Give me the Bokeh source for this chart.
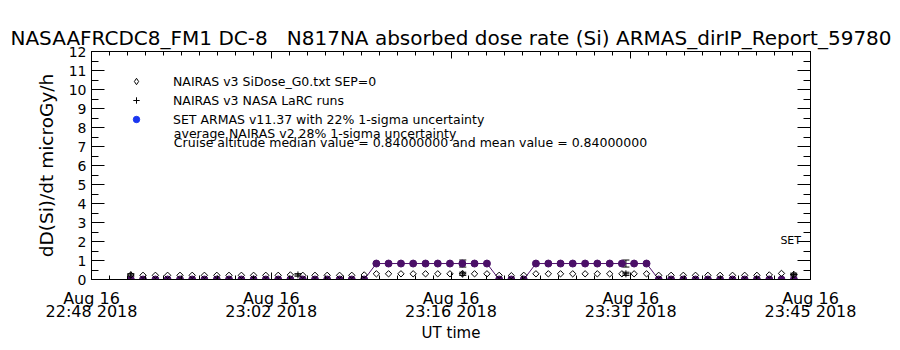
import math
from bokeh.plotting import figure
from bokeh.models import (Range1d, LinearAxis, FixedTicker, Legend, LegendItem, Label,
                          Whisker, TeeHead, ColumnDataSource)
from bokeh.embed import file_html
from bokeh.resources import INLINE

FONT = "DejaVu Sans"
INK = "black"
PURPLE = "#4b0f68"
BLUE = "#1a36f0"

NBSP = "\u00a0"
title_text = "NASAAFRCDC8_FM1 DC-8" + NBSP * 3 + "N817NA absorbed dose rate (Si) ARMAS_dirIP_Report_59780"
y_title = "dD(Si)/dt microGy/h"
x_title = "UT time"

# ---- data (UT times on Aug 16 2018) ----
nairas_times = [
    "22:51:07", "22:52:05", "22:53:04", "22:54:02", "22:55:01", "22:55:59", "22:56:57", "22:57:56", "22:58:54", "22:59:53",
    "23:00:51", "23:01:49", "23:02:48", "23:03:46", "23:04:45", "23:05:43", "23:06:41", "23:07:40", "23:08:38", "23:09:37",
    "23:10:35", "23:11:33", "23:12:32", "23:13:30", "23:14:29", "23:15:27", "23:16:25", "23:17:24", "23:18:22", "23:19:21",
    "23:20:19", "23:21:17", "23:22:16", "23:23:14", "23:24:13", "23:25:11", "23:26:09", "23:27:08", "23:28:06", "23:29:05",
    "23:30:03", "23:31:01", "23:32:00", "23:32:58", "23:33:57", "23:34:55", "23:35:53", "23:36:52", "23:37:50", "23:38:49",
    "23:39:47", "23:40:45", "23:41:44", "23:42:42", "23:43:41",
]
nairas_dose = [
    0.24, 0.22, 0.22, 0.22, 0.22, 0.22, 0.22, 0.22, 0.22, 0.22,
    0.22, 0.22, 0.22, 0.24, 0.22, 0.22, 0.22, 0.22, 0.22, 0.24,
    0.30, 0.30, 0.30, 0.30, 0.30, 0.30, 0.30, 0.30, 0.30, 0.30,
    0.22, 0.20, 0.22, 0.30, 0.30, 0.30, 0.30, 0.30, 0.30, 0.30,
    0.30, 0.30, 0.30, 0.22, 0.22, 0.22, 0.22, 0.22, 0.22, 0.22,
    0.22, 0.22, 0.24, 0.32, 0.26,
]
armas_dose = [
    0, 0, 0, 0, 0, 0, 0, 0, 0, 0,
    0, 0, 0, 0, 0, 0, 0, 0, 0, 0,
    0.84, 0.84, 0.84, 0.84, 0.84, 0.84, 0.84, 0.84, 0.84, 0.84,
    0, 0, 0, 0.84, 0.84, 0.84, 0.84, 0.84, 0.84, 0.84,
    0.84, 0.84, 0.84, 0, 0, 0, 0, 0, 0, 0,
    0, 0, 0, 0, 0,
]
larc_times = ["22:51:07", "23:04:22", "23:17:26", "23:30:22", "23:43:40"]
larc_dose = [0.24, 0.24, 0.30, 0.30, 0.26]
armas_at_larc = [0, 0, 0.84, 0.84, 0]
armas_sigma = 0.22
nairas_sigma = 0.28

x_tick_minutes = [0.0, 14.25, 28.5, 42.75, 57.0]
x_tick_dates = ["Aug 16", "Aug 16", "Aug 16", "Aug 16", "Aug 16"]
x_tick_times = ["22:48 2018", "23:02 2018", "23:16 2018", "23:31 2018", "23:45 2018"]
y_ticks = [0, 1, 2, 3, 4, 5, 6, 7, 8, 9, 10, 11, 12]

legend_labels = ["NAIRAS v3 SiDose_G0.txt SEP=0",
                 "NAIRAS v3 NASA LaRC runs",
                 "SET ARMAS v11.37 with 22% 1-sigma uncertainty"]
note_lines = ["average NAIRAS v2 28% 1-sigma uncertainty",
              "Cruise altitude median value = 0.84000000 and mean value = 0.84000000"]
side_tag = "SET"


def minutes(t):
    h, m, s = (int(v) for v in t.split(":"))
    return h * 60 + m + s / 60.0 - (22 * 60 + 48)


p = figure(width=900, height=350, output_backend="svg", toolbar_location=None,
           x_range=Range1d(0, 57), y_range=Range1d(0, 12),
           min_border_left=91, min_border_right=90, min_border_top=51, min_border_bottom=71,
           background_fill_color="white", border_fill_color="white", outline_line_color=None)
p.grid.visible = False

p.title.text = title_text
p.title.text_font = FONT
p.title.text_font_size = "20px"
p.title.text_font_style = "normal"
p.title.text_color = INK
p.title.align = "center"
p.title.standoff = 3

x_minor = [i * 1.425 for i in range(41)]
xt = FixedTicker(ticks=x_tick_minutes, minor_ticks=x_minor)
yt = FixedTicker(ticks=y_ticks, minor_ticks=[i * 0.5 for i in range(25)])

# left axis
ya = p.yaxis[0]
ya.ticker = yt
ya.major_tick_in = 13
ya.major_tick_out = 0
ya.minor_tick_in = 7
ya.minor_tick_out = 0
ya.major_label_text_font = FONT
ya.major_label_text_font_size = "14px"
ya.major_label_text_color = INK
ya.major_label_standoff = 5
ya.axis_label = y_title
ya.axis_label_text_font = FONT
ya.axis_label_text_font_size = "18.5px"
ya.axis_label_text_font_style = "normal"
ya.axis_label_text_color = INK
ya.axis_label_standoff = 9
ya.axis_line_color = INK

# bottom axis (first label line)
xa = p.xaxis[0]
xa.ticker = xt
xa.major_label_overrides = dict(zip(x_tick_minutes, x_tick_dates))
xa.major_tick_in = 7
xa.major_tick_out = 0
xa.minor_tick_in = 4
xa.minor_tick_out = 0
xa.major_label_text_font = FONT
xa.major_label_text_font_size = "16px"
xa.major_label_text_color = INK
xa.major_label_standoff = 9

# bottom second line of labels + axis title
xa2 = LinearAxis(ticker=FixedTicker(ticks=x_tick_minutes),
                 major_label_overrides=dict(zip(x_tick_minutes, x_tick_times)),
                 axis_line_color=None, major_tick_line_color=None, minor_tick_line_color=None,
                 major_tick_in=0, major_tick_out=0, minor_tick_in=0, minor_tick_out=0,
                 major_label_standoff=-9, major_label_text_font=FONT, major_label_text_font_size="16px",
                 major_label_text_color=INK,
                 axis_label=x_title, axis_label_text_font=FONT, axis_label_text_font_size="15px",
                 axis_label_text_font_style="normal", axis_label_text_color=INK, axis_label_standoff=0)
p.add_layout(xa2, "below")

# top and right axes: ticks only
top = LinearAxis(ticker=xt, major_tick_in=7, major_tick_out=0, minor_tick_in=4, minor_tick_out=0,
                 major_label_text_color=None, major_label_text_font_size="1px", major_label_standoff=0)
p.add_layout(top, "above")
right = LinearAxis(ticker=yt, major_tick_in=13, major_tick_out=0, minor_tick_in=7, minor_tick_out=0,
                   major_label_text_color=None, major_label_text_font_size="1px", major_label_standoff=0)
p.add_layout(right, "right")

# data
src = ColumnDataSource(dict(x=[minutes(t) for t in nairas_times], nairas=nairas_dose, armas=armas_dose))
p.line("x", "armas", source=src, line_color=PURPLE, line_width=1)
p.scatter("x", "armas", source=src, marker="circle", size=7, fill_color=PURPLE, line_color=PURPLE)
p.scatter("x", "nairas", source=src, marker="square", angle=math.pi / 4, size=4.5,
          fill_color=None, line_color=INK, line_width=1)

lx = [minutes(t) for t in larc_times]
lsrc = ColumnDataSource(dict(
    x=lx, y=larc_dose,
    lo=[v * (1 - nairas_sigma) for v in larc_dose], hi=[v * (1 + nairas_sigma) for v in larc_dose],
    a=armas_at_larc,
    alo=[v * (1 - armas_sigma) for v in armas_at_larc], ahi=[v * (1 + armas_sigma) for v in armas_at_larc],
))
r_larc = p.scatter("x", "y", source=lsrc, marker="cross", size=7, line_color=INK, line_width=1)
p.add_layout(Whisker(source=lsrc, base="x", upper="hi", lower="lo", line_color=INK,
                     upper_head=TeeHead(size=7, line_color=INK),
                     lower_head=TeeHead(size=7, line_color=INK)))
p.add_layout(Whisker(source=lsrc, base="x", upper="ahi", lower="alo", line_color=INK,
                     upper_head=TeeHead(size=7, line_color=INK),
                     lower_head=TeeHead(size=7, line_color=INK)))

# legend symbols: renderers of the same series, muted (invisible) in the plot itself
r_dleg = p.scatter("x", "nairas", source=src, marker="diamond", size=7,
                   fill_color=None, line_color=INK, line_width=1, muted_alpha=0)
r_dleg.muted = True
r_blue = p.scatter("x", "armas", source=src, marker="circle", size=6,
                   fill_color=BLUE, line_color=BLUE, muted_alpha=0)
r_blue.muted = True

legend = Legend(items=[LegendItem(label=legend_labels[0], renderers=[r_dleg]),
                       LegendItem(label=legend_labels[1], renderers=[r_larc]),
                       LegendItem(label=legend_labels[2], renderers=[r_blue])],
                location=(30, 152), orientation="vertical", padding=0, margin=0, spacing=3,
                glyph_width=30, glyph_height=16, label_height=15, label_standoff=22,
                label_text_font=FONT, label_text_font_size="12.5px", label_text_color=INK,
                border_line_color=None, background_fill_alpha=0)
p.add_layout(legend)

note_x = 6.53
p.add_layout(Label(x=note_x, y=7.71, text=note_lines[0], text_font=FONT, text_font_size="12.5px",
                   text_color=INK, text_baseline="alphabetic"))
p.add_layout(Label(x=note_x, y=7.21, text=note_lines[1], text_font=FONT, text_font_size="12.5px",
                   text_color=INK, text_baseline="alphabetic"))
p.add_layout(Label(x=56.25, y=2.05, text=side_tag, text_font=FONT, text_font_size="11px",
                   text_color=INK, text_align="right", text_baseline="alphabetic"))

open("out.html", "w").write(file_html(p, INLINE))
